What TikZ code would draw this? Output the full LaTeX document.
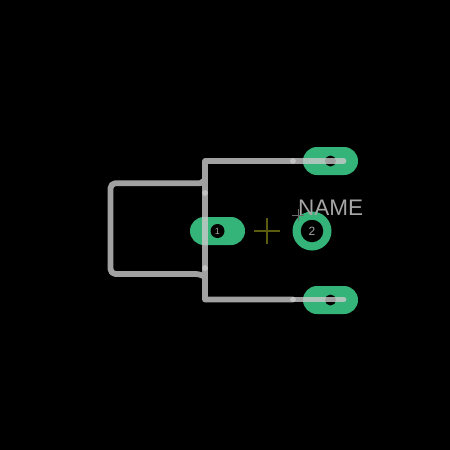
\documentclass[tikz,border=0pt]{standalone}
\usepackage{fontspec}
\setmainfont{Liberation Sans}
\tikzset{
  padoval/.style={
    rectangle,
    rounded corners=14pt,
    fill=padgreen,
    minimum width=55pt,
    minimum height=28pt,
    inner sep=0pt
  },
  padhole/.style={
    circle,
    fill=black,
    minimum size=#1,
    inner sep=0pt
  },
  silk/.style={
    draw=silkgray,
    line width=5.8pt,
    line cap=round,
    line join=round,
    opacity=0.8
  },
  anchormark/.style={
    draw=markolive,
    line width=1.1pt
  }
}
\definecolor{padgreen}{HTML}{35B47A}
\definecolor{silkgray}{HTML}{CACACA}
\definecolor{markolive}{HTML}{5C5C10}
\definecolor{textgray}{HTML}{A6A6A6}
\definecolor{textmark}{HTML}{6A6A6A}
\def\padnum#1{\fontsize{#1}{#1}\selectfont}

\begin{document}
\begin{tikzpicture}[x=1pt, y=-1pt]
    \useasboundingbox[fill=black] (0, 0) rectangle (450, 450);
    % pads
    \node[padoval] (padtop) at (330.5, 161) {};
    \node[padoval] (padleft) at (217.5, 231) {};
    \node[padoval] (padbot) at (330.5, 300) {};
    \node[circle, fill=padgreen, minimum size=39pt, inner sep=0pt] (padring) at (312, 231) {};
    \node[padhole=11pt] (holetop) at (330.5, 161) {};
    \node[padhole=14pt] (holeleft) at (217.5, 231) {};
    \node[padhole=11pt] (holebot) at (330.5, 300) {};
    \node[padhole=22.5pt] (holering) at (312, 231) {};
    \node[text=textgray] (num1) at (217.5, 231) {\padnum{9}1};
    \node[text=textgray] (num2) at (312, 231) {\padnum{12}2};
    % outline
    \coordinate (topend) at (343.5, 161);
    \coordinate (botend) at (343.5, 299.5);
    \coordinate (topmid) at (293, 161);
    \coordinate (botmid) at (293, 299.5);
    \coordinate (topjoin) at (205, 161);
    \coordinate (botjoin) at (205, 299.5);
    \coordinate (loopa) at (205, 193);
    \coordinate (loopb) at (205, 268);
    \coordinate (filleta) at (205, 180);
    \coordinate (filletb) at (205, 277);
    \coordinate (stuba) at (200.5, 183.2);
    \coordinate (stubb) at (200.5, 274);
    \draw[silk] (topmid) -- (topend);
    \draw[silk] (botmid) -- (botend);
    \draw[silk] (loopa) -- (loopb);
    \draw[silk] (topmid) -- (topjoin) -- (loopa)
      (filleta) -- (stuba) [rounded corners=5pt] -- (110.5, 183.2) -- (110.5, 274) -- (stubb) [sharp corners] -- (filletb)
      (loopb) -- (botjoin) -- (botmid);
    % reference mark
    \coordinate (crossw) at (254, 231);
    \coordinate (crosse) at (280, 231);
    \coordinate (crossn) at (267, 218);
    \coordinate (crosss) at (267, 244);
    \draw[anchormark] (crossw) -- (crosse);
    \draw[anchormark] (crossn) -- (crosss);
    % value text
    \node[text=textgray, anchor=base west, inner sep=0pt] (name) at (298, 215) {\fontsize{22.5}{22.5}\selectfont NAME};
    \coordinate (textw) at (292, 215);
    \coordinate (texte) at (304, 215);
    \coordinate (textn) at (298, 209);
    \coordinate (texts) at (298, 221);
    \draw[draw=textmark, line width=0.8pt] (textw) -- (texte);
    \draw[draw=textmark, line width=0.8pt] (textn) -- (texts);
  \end{tikzpicture}
\end{document}
